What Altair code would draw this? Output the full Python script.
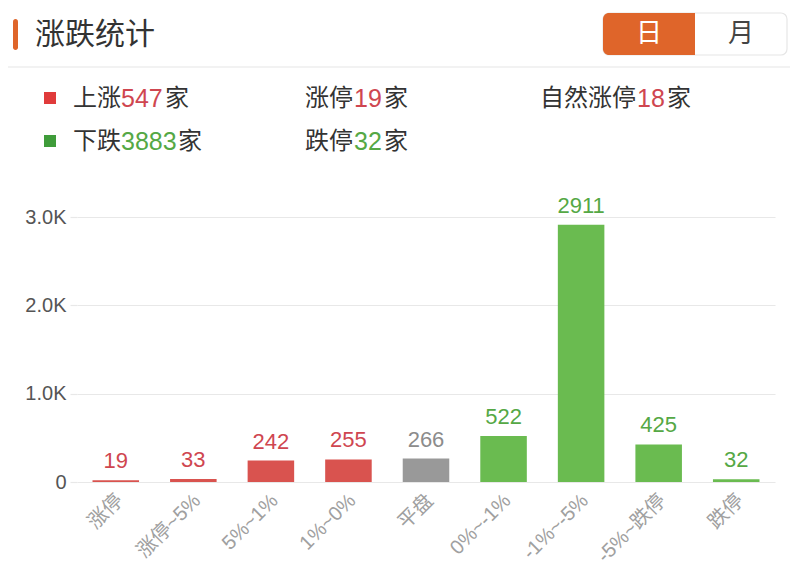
import altair as alt
import pandas as pd

# ---- data ----
categories = ["涨停", "涨停~5%", "5%~1%", "1%~0%", "平盘", "0%~-1%", "-1%~-5%", "-5%~跌停", "跌停"]
counts = [19, 33, 242, 255, 266, 522, 2911, 425, 32]
groups = ["up", "up", "up", "up", "flat", "down", "down", "down", "down"]
y_ticks = [0, 1000, 2000, 3000]

title_text = "涨跌统计"
tab_labels = ["日", "月"]
up_total = 547
limit_up = 19
natural_limit_up = 18
down_total = 3883
limit_down = 32

# ---- styles ----
FONT = "'Liberation Sans', 'Noto Sans CJK SC', sans-serif"
CJK = "'Noto Sans CJK SC', sans-serif"
ORANGE = "#df652a"
DARK = "#333333"
RED_TXT = "#cf4650"
GREEN_TXT = "#55a845"

W, H = 698, 265
OX, OY = 77, 217  # page position of the plot origin


def px(v):
    return v - OX


def py(v):
    return v - OY


dummy = pd.DataFrame({"_": [0]})


def txt(s, x, y, color=DARK, size=24, align="left", font=FONT):
    return alt.Chart(dummy).mark_text(
        text=s, align=align, baseline="middle", fontSize=size, color=color, font=font
    ).encode(x=alt.value(px(x)), y=alt.value(py(y)))


def rect(x1, x2, y1, y2, fill, **kw):
    return alt.Chart(dummy).mark_rect(fill=fill, **kw).encode(
        x=alt.value(px(x1)), x2=alt.value(px(x2)), y=alt.value(py(y1)), y2=alt.value(py(y2))
    )


df = pd.DataFrame({"cat": categories, "count": counts, "grp": groups})
base = alt.Chart(df)

xenc = alt.X(
    "cat:N",
    sort=categories,
    scale=alt.Scale(paddingInner=0.4, paddingOuter=0.2),
    axis=alt.Axis(
        title=None, labelAngle=-45, labelColor="#a0a0a0", labelFontSize=20,
        labelFont=FONT, ticks=False, domain=False, labelPadding=8, labelOffset=-3,
        labelOverlap=False,
    ),
)
yenc = alt.Y(
    "count:Q",
    scale=alt.Scale(domain=[0, 3000], nice=False),
    axis=alt.Axis(
        title=None, values=y_ticks,
        labelExpr="datum.value == 0 ? '0' : format(datum.value / 1000, '.1f') + 'K'",
        grid=True, gridColor="#e8e8e8", gridWidth=1.2, domain=False,
        tickColor="#e8e8e8", tickSize=7, tickWidth=1.2, labelPadding=4,
        labelFontSize=20, labelColor="#555555", labelFont=FONT,
    ),
)

bars = base.mark_bar().encode(
    x=xenc, y=yenc,
    color=alt.Color("grp:N", scale=alt.Scale(domain=["up", "flat", "down"],
                                             range=["#d9534f", "#999999", "#6abb50"]), legend=None),
)
values = base.mark_text(baseline="bottom", dy=-7, fontSize=22, font=FONT).encode(
    x=xenc, y=yenc, text="count:Q",
    color=alt.Color("grp:N", scale=alt.Scale(domain=["up", "flat", "down"],
                                             range=[RED_TXT, "#8c8c8c", GREEN_TXT]), legend=None),
)

deco = [
    # header
    rect(13, 18, 19, 50, ORANGE, cornerRadius=2.5),
    txt(title_text, 35, 35, DARK, 30, font=CJK),
    rect(603, 787, 13, 55, "#ffffff", stroke="#e6e6e6", strokeWidth=1.2, cornerRadius=6),
    rect(603, 695, 13, 55, ORANGE, cornerRadiusTopLeft=6, cornerRadiusBottomLeft=6),
    txt(tab_labels[0], 649, 34, "#ffffff", 26, "center", CJK),
    txt(tab_labels[1], 741, 34, "#444444", 26, "center", CJK),
    alt.Chart(dummy).mark_rule(color="#eeeeee", strokeWidth=1.5).encode(
        x=alt.value(px(0)), x2=alt.value(px(800)), y=alt.value(py(67))),
    # legend row 1
    rect(44, 56, 92, 104, "#e03b3b"),
    txt("上涨", 73, 99), txt(str(up_total), 121, 99, RED_TXT, 25), txt("家", 165, 99),
    txt("涨停", 305, 99), txt(str(limit_up), 354, 99, RED_TXT, 25), txt("家", 384, 99),
    txt("自然涨停", 540, 99), txt(str(natural_limit_up), 637, 99, RED_TXT, 25), txt("家", 667, 99),
    # legend row 2
    rect(44, 56, 135, 147, "#3f9c3a"),
    txt("下跌", 73, 142), txt(str(down_total), 121, 142, GREEN_TXT, 25), txt("家", 178, 142),
    txt("跌停", 305, 142), txt(str(limit_down), 354, 142, GREEN_TXT, 25), txt("家", 384, 142),
]

chart = alt.layer(bars, values, *deco).resolve_scale(color="independent").properties(
    width=W, height=H,
    autosize=alt.AutoSizeParams(type="none"),
    padding={"left": 69, "top": 209, "right": 15, "bottom": 88},
    background="#ffffff",
).configure_view(stroke=None)

chart.save("out.html", embed_options={"renderer": "svg", "actions": False})
